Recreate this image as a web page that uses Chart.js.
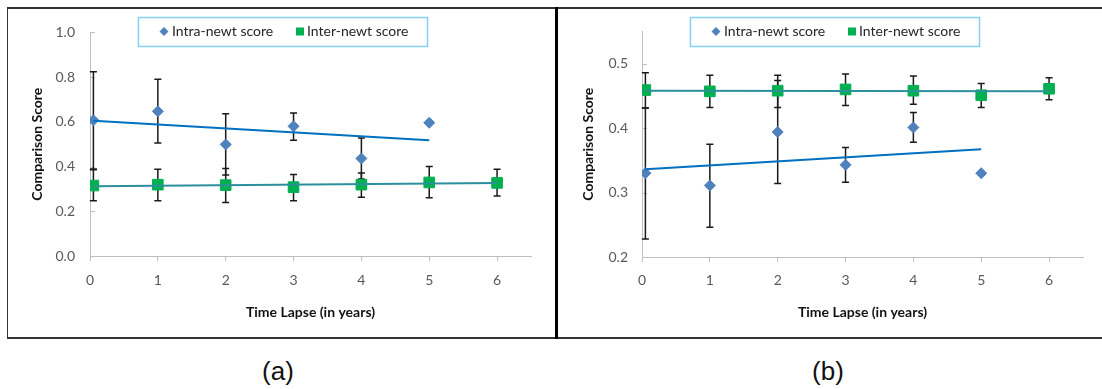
<!DOCTYPE html>
<html>
<head>
<meta charset="utf-8">
<script src="https://cdn.jsdelivr.net/npm/chart.js@4.4.0/dist/chart.umd.min.js"></script>
<style>
  body { margin: 0; background: #fff; width: 1102px; height: 389px; overflow: hidden; position: relative; }
  canvas { position: absolute; }
  .ln { position: absolute; background: #333; }
  .cap { position: absolute; font-family: "Liberation Sans", Arial, sans-serif; font-size: 26px; line-height: 26px; color: #111; width: 100px; text-align: center; }
</style>
</head>
<body>
<canvas id="chartA" width="548" height="328" style="left:8px;top:9px;width:548px;height:328px"></canvas>
<canvas id="chartB" width="543" height="328" style="left:559px;top:9px;width:543px;height:328px"></canvas>
<div class="ln" style="left:7px;top:7px;width:1095px;height:2px"></div>
<div class="ln" style="left:7px;top:337px;width:1095px;height:2px"></div>
<div class="ln" style="left:7px;top:7px;width:1px;height:332px"></div>
<div class="ln" style="left:555px;top:7px;width:3px;height:332px;background:#000"></div>
<div class="cap" style="left:228px;top:358px">(a)</div>
<div class="cap" style="left:778px;top:358px">(b)</div>
<script>
// time lapse in years (first sample sits just right of 0)
var years = [0.05, 1, 2, 3, 4, 5, 6];
var xTicks = [0, 1, 2, 3, 4, 5, 6];

// panel (a)
var intraA    = [0.607, 0.647, 0.499, 0.580, 0.436, 0.596];
var intraAHi  = [0.824, 0.790, 0.636, 0.640, 0.528, null];
var intraALo  = [0.389, 0.505, 0.362, 0.518, 0.344, null];
var interA    = [0.315, 0.319, 0.317, 0.308, 0.319, 0.329, 0.327];
var interAHi  = [0.386, 0.388, 0.391, 0.364, 0.371, 0.400, 0.388];
var interALo  = [0.247, 0.247, 0.239, 0.247, 0.263, 0.260, 0.268];
var trendAIntra = [0.605, 0.518];   // x: 0.05 -> 5
var trendAInter = [0.312, 0.327];   // x: 0.05 -> 6
var yTicksA = [0, 0.2, 0.4, 0.6, 0.8, 1.0];

// panel (b)
var intraB    = [0.330, 0.311, 0.394, 0.343, 0.401, 0.330];
var intraBHi  = [0.431, 0.375, 0.474, 0.370, 0.424, null];
var intraBLo  = [0.228, 0.246, 0.314, 0.316, 0.378, null];
var interB    = [0.459, 0.457, 0.458, 0.460, 0.458, 0.451, 0.461];
var interBHi  = [0.486, 0.482, 0.482, 0.484, 0.481, 0.469, 0.478];
var interBLo  = [0.431, 0.432, 0.432, 0.435, 0.437, 0.432, 0.444];
var trendBIntra = [0.336, 0.367];
var trendBInter = [0.458, 0.457];
var yTicksB = [0.2, 0.3, 0.4, 0.5];

var legendLabels = ['Intra-newt score', 'Inter-newt score'];

var BLUE = '#4f81bd', GREEN = '#00b050', TBLUE = '#0070c0', TTEAL = '#2b8f9c';
var AXIS = '#bfbfbf';
var FONT = 'Lato, "Open Sans", sans-serif';

function pts(xs, ys) {
  return ys.map(function (v, i) { return { x: xs[i], y: v } })
}

// error bars under the markers, inner y ticks, boxed legend
var extras = {
  id: 'extras',
  beforeDatasetsDraw: function (chart) {
    var ctx = chart.ctx, xs = chart.scales.x, ys = chart.scales.y, ca = chart.chartArea
    ctx.save()
    ctx.strokeStyle = AXIS
    ctx.lineWidth = 1
    ys.ticks.forEach(function (t) {
      var py = Math.round(ys.getPixelForValue(t.value)) + 0.5
      ctx.beginPath(); ctx.moveTo(ca.left, py); ctx.lineTo(ca.left + 5, py); ctx.stroke()
    })
    ctx.strokeStyle = '#1a1a1a'
    ctx.lineWidth = 1.5
    chart.data.datasets.forEach(function (ds) {
      if (!ds.errHi) return
      ds.data.forEach(function (p, i) {
        if (ds.errHi[i] == null) return
        var px = xs.getPixelForValue(p.x)
        var top = ys.getPixelForValue(ds.errHi[i]), bot = ys.getPixelForValue(ds.errLo[i])
        ctx.beginPath()
        ctx.moveTo(px, top); ctx.lineTo(px, bot)
        ctx.moveTo(px - 3.5, top); ctx.lineTo(px + 3.5, top)
        ctx.moveTo(px - 3.5, bot); ctx.lineTo(px + 3.5, bot)
        ctx.stroke()
      })
    })
    ctx.restore()
  },
  afterDraw: function (chart) {
    var ctx = chart.ctx, ca = chart.chartArea
    var bx = ca.left + 48, by = 8, bw = 289, bh = 29, cy = by + bh / 2
    ctx.save()
    ctx.strokeStyle = '#86cff0'
    ctx.lineWidth = 1.5
    ctx.strokeRect(bx + 0.5, by + 0.5, bw, bh)
    ctx.fillStyle = BLUE
    ctx.beginPath()
    ctx.moveTo(bx + 26, cy - 4.5); ctx.lineTo(bx + 30.5, cy); ctx.lineTo(bx + 26, cy + 4.5); ctx.lineTo(bx + 21.5, cy)
    ctx.closePath(); ctx.fill()
    ctx.fillStyle = GREEN
    ctx.fillRect(bx + 158, cy - 4, 8, 8)
    ctx.fillStyle = '#262626'
    ctx.font = '14px ' + FONT
    ctx.textBaseline = 'middle'
    ctx.fillText(legendLabels[0], bx + 34, cy)
    ctx.fillText(legendLabels[1], bx + 169, cy)
    ctx.restore()
  }
}

function makePanel(id, p) {
  new Chart(document.getElementById(id), {
    type: 'scatter',
    data: {
      datasets: [
        { label: 'trend intra', type: 'line', data: pts([years[0], 5], p.tIntra), borderColor: TBLUE, borderWidth: 2, pointRadius: 0, order: 0 },
        { label: 'trend inter', type: 'line', data: pts([years[0], 6], p.tInter), borderColor: TTEAL, borderWidth: 2, pointRadius: 0, order: 0 },
        { label: legendLabels[0], data: pts(years, p.intra), errHi: p.intraHi, errLo: p.intraLo,
          pointStyle: 'rectRot', pointRadius: 5.5, backgroundColor: BLUE, borderColor: BLUE, borderWidth: 1, order: 1 },
        { label: legendLabels[1], data: pts(years, p.inter), errHi: p.interHi, errLo: p.interLo,
          pointStyle: 'rect', pointRadius: 7.5, backgroundColor: GREEN, borderColor: GREEN, borderWidth: 1, order: 1 }
      ]
    },
    options: {
      responsive: false,
      animation: false,
      layout: { padding: { top: p.padTop, right: p.padRight, left: 0, bottom: 0 } },
      plugins: { legend: { display: false }, tooltip: { enabled: false } },
      scales: {
        x: {
          type: 'linear', min: 0, max: 6.5,
          afterBuildTicks: function (s) { s.ticks = xTicks.map(function (v) { return { value: v } }) },
          afterFit: function (s) { s.height = p.xHeight },
          border: { color: AXIS, width: 1 },
          grid: { drawOnChartArea: false, tickLength: 5, color: AXIS },
          ticks: { color: '#595959', font: { family: FONT, size: 14 }, padding: p.xPad },
          title: { display: true, text: 'Time Lapse (in years)', color: '#111', font: { family: FONT, size: 14, weight: 'bold' }, padding: { top: 0, bottom: 16.5 } }
        },
        y: {
          min: p.yMin, max: p.yMax,
          afterBuildTicks: function (s) { s.ticks = p.yTicks.map(function (v) { return { value: v } }) },
          afterFit: function (s) { s.width = p.yWidth },
          border: { color: AXIS, width: 1 },
          grid: { drawOnChartArea: false, drawTicks: false },
          ticks: { color: '#595959', font: { family: FONT, size: 14 }, padding: p.yPad,
                   callback: function (v) { return Number(v).toFixed(1) } },
          title: { display: true, text: 'Comparison Score', color: '#111', font: { family: FONT, size: 14, weight: 'bold' }, padding: { top: 21, bottom: 0 } }
        }
      }
    },
    plugins: [extras]
  })
}

makePanel('chartA', {
  intra: intraA, intraHi: intraAHi, intraLo: intraALo,
  inter: interA, interHi: interAHi, interLo: interALo,
  tIntra: trendAIntra, tInter: trendAInter,
  yMin: 0, yMax: 1.0, yTicks: yTicksA,
  padTop: 18, padRight: 25, xHeight: 81, yWidth: 82, xPad: 11.5, yPad: 15
})

makePanel('chartB', {
  intra: intraB, intraHi: intraBHi, intraLo: intraBLo,
  inter: interB, interHi: interBHi, interLo: interBLo,
  tIntra: trendBIntra, tInter: trendBInter,
  yMin: 0.2, yMax: 0.55, yTicks: yTicksB,
  padTop: 16, padRight: 19, xHeight: 80, yWidth: 83, xPad: 10.5, yPad: 14
})
</script>
</body>
</html>
